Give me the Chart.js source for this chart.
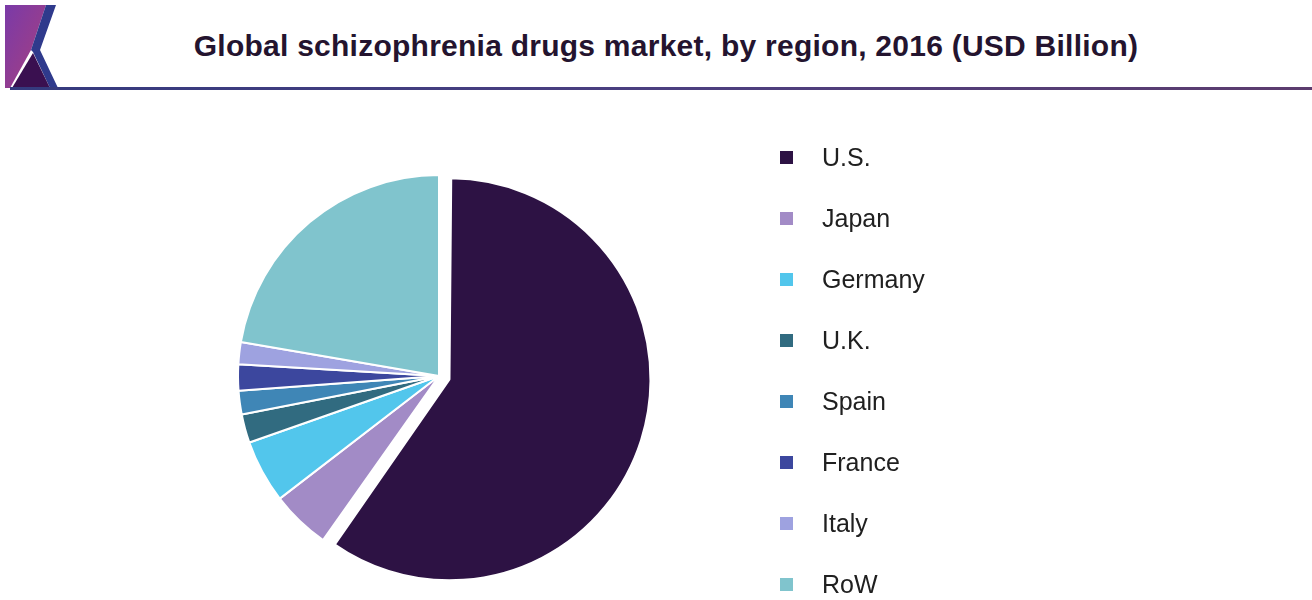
<!DOCTYPE html>
<html>
<head>
<meta charset="utf-8">
<script src="https://cdn.jsdelivr.net/npm/chart.js@4"></script>
<style>
  html, body { margin: 0; padding: 0; background: #fff; }
  body { width: 1312px; height: 600px; position: relative; overflow: hidden; font-family: "Liberation Sans", Arial, sans-serif; }
  #logo { position: absolute; left: 0; top: 0; }
  #title { position: absolute; left: 0; width: 1332px; top: 29px; text-align: center; font-weight: bold; font-size: 30px; letter-spacing: 0.25px; color: #24142f; }
  #rule { position: absolute; left: 10px; right: 0; top: 87px; height: 3px; background: linear-gradient(90deg, #343a7e, #4b3f80 50%, #5c3c6e); }
  #wrap { position: absolute; left: 0; top: 0; width: 1312px; height: 600px; }
  #legend { position: absolute; left: 780px; top: 0; }
  .item { position: absolute; left: 0; display: flex; align-items: center; white-space: nowrap; font-size: 25px; color: #202020; height: 30px; }
  .box { width: 13px; height: 13px; margin-right: 29px; }
</style>
</head>
<body>
<svg id="logo" width="70" height="92">
  <defs>
    <linearGradient id="lg" x1="0" y1="0" x2="1" y2="1">
      <stop offset="0" stop-color="#7a3aa8"/>
      <stop offset="1" stop-color="#a8407e"/>
    </linearGradient>
  </defs>
  <polygon points="5,5 46,5 31,50 10,88 5,88" fill="url(#lg)"/>
  <polygon points="46,5 56,5 40,50 58,88 50,88 33,52 31,50" fill="#2f3a8c"/>
  <polygon points="33,53 50,88 12,88" fill="#3a1050"/>
</svg>
<div id="title">Global schizophrenia drugs market, by region, 2016 (USD Billion)</div>
<div id="rule"></div>
<div id="wrap"><canvas id="pieChart"></canvas></div>
<div id="legend"></div>
<script>
// Market size by region, 2016 (USD Billion)
const regions = ['U.S.', 'Japan', 'Germany', 'U.K.', 'Spain', 'France', 'Italy', 'RoW'];
const marketSize = [3.89, 0.31, 0.33, 0.15, 0.123, 0.137, 0.116, 1.45];
const sliceColors = ['#2d1244', '#a28bc6', '#52c6ec', '#316b80', '#3f86b6', '#3c479e', '#9ea2e0', '#80c4cd'];
const sliceOffsets = [44, 0, 0, 0, 0, 0, 0, 0];

// Legend
const legend = document.getElementById('legend');
regions.forEach((name, i) => {
  const item = document.createElement('div');
  item.className = 'item';
  item.style.top = (142 + i * 61) + 'px';
  const box = document.createElement('span');
  box.className = 'box';
  box.style.background = sliceColors[i];
  const label = document.createElement('span');
  label.textContent = name;
  item.appendChild(box);
  item.appendChild(label);
  legend.appendChild(item);
});

// chart.js grows a pulled-out slice's radius by offset/4 when it spans > 180deg,
// take that back so the U.S. slice keeps the same radius as the rest
const keepRadius = {
  id: 'keepRadius',
  afterDatasetUpdate(chart, args) {
    args.meta.data.forEach((arc, i) => {
      if (arc.circumference >= Math.PI) arc.outerRadius -= sliceOffsets[i] / 4;
    });
  }
};

// Pie chart (U.S. slice pulled out)
const pieChart = document.getElementById('pieChart').getContext('2d');
new Chart(pieChart, {
  type: 'pie',
  data: {
    labels: regions,
    datasets: [{
      data: marketSize,
      backgroundColor: sliceColors,
      borderColor: '#ffffff',
      borderWidth: 2,
      offset: sliceOffsets
    }]
  },
  options: {
    responsive: true,
    maintainAspectRatio: false,
    animation: false,
    radius: 201,
    layout: {
      padding: { left: 231, top: 168, right: 665, bottom: 16 }
    },
    plugins: {
      legend: { display: false },
      tooltip: { enabled: false }
    }
  },
  plugins: [keepRadius]
});
</script>
</body>
</html>
